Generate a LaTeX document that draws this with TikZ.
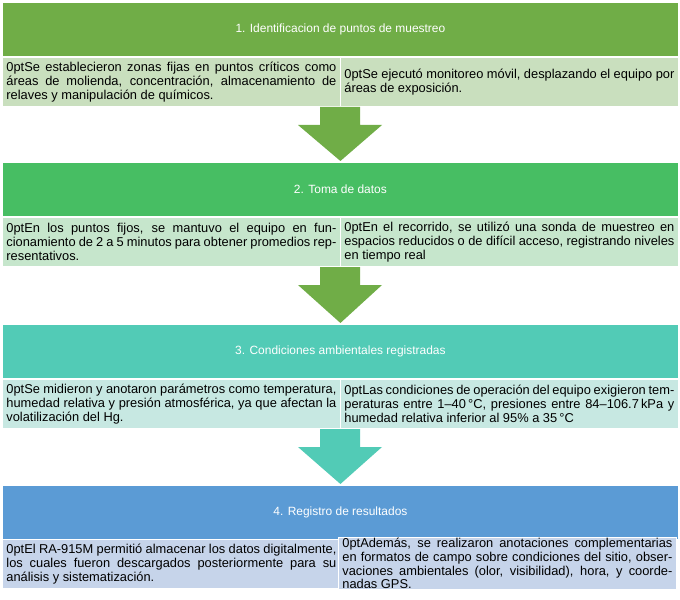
\documentclass[tikz,border=0pt]{standalone}
\usepackage{fontspec}
\setmainfont{Liberation Sans}
\usetikzlibrary{positioning}
\definecolor{hgreen}{HTML}{70AD47}
\definecolor{lgreen}{HTML}{C9DFBE}
\definecolor{hmint}{HTML}{47BE63}
\definecolor{lmint}{HTML}{C6E6CC}
\definecolor{hteal}{HTML}{52CBB6}
\definecolor{lteal}{HTML}{C7E8E2}
\definecolor{hblue}{HTML}{5B9BD5}
\definecolor{lblue}{HTML}{C6D4EA}
\tikzset{
  head/.style={fill=#1,draw=white,line width=0.8bp,minimum width=676bp,minimum height=54bp,
    anchor=north west,text=white,font=\fontsize{12}{14}\selectfont,inner sep=0pt},
  sub/.style={fill=#1,draw=white,line width=0.8bp,minimum width=338bp,minimum height=49bp,
    anchor=north west,text width=330bp,align=justify,inner xsep=4bp,inner ysep=2bp,
    font=\fontsize{12.9}{14}\selectfont\hyphenpenalty=10000\exhyphenpenalty=10000},
}
\newcommand{\blockarrow}[3]{% color, from node, to node
  \fill[#1] ([xshift=-20bp,yshift=-1bp]#2.south) -- ([xshift=20bp,yshift=-1bp]#2.south)
    -- ([xshift=20bp,yshift=-19bp]#2.south) -- ([xshift=42bp,yshift=-19bp]#2.south)
    -- ([yshift=1bp]#3.north) -- ([xshift=-42bp,yshift=-19bp]#2.south)
    -- ([xshift=-20bp,yshift=-19bp]#2.south) -- cycle;}
\begin{document}
\begin{tikzpicture}[x=1bp,y=-1bp]
  \useasboundingbox (0,0) rectangle (680,600);
  % Paso 1
  \node[head=hgreen] (h1) at (2,2) {1. Identificacion de puntos de muestreo};
  \node[sub=lgreen] (s1a) at (2,57) {Se establecieron zonas fijas en puntos críticos como áreas de molienda, concentración, almacenamiento de relaves y manipulación de químicos.\par};
  \node[sub=lgreen] (s1b) at (340,57) {Se ejecutó monitoreo móvil, desplazando el equipo por áreas de exposición.\par};
  % Paso 2
  \node[head=hmint] (h2) at (2,162) {2. Toma de datos};
  \node[sub=lmint] (s2a) at (2,217) {En los puntos fijos, se mantuvo el equipo en funcionamiento de 2 a 5 minutos para obtener promedios representativos.\par};
  \node[sub=lmint] (s2b) at (340,217) {En el recorrido, se utilizó una sonda de muestreo en espacios reducidos o de difícil acceso, registrando niveles en tiempo real\par};
  % Paso 3
  \node[head=hteal] (h3) at (2,324) {3. Condiciones ambientales registradas};
  \node[sub=lteal] (s3a) at (2,379) {Se midieron y anotaron parámetros como temperatura, humedad relativa y presión atmosférica, ya que afectan la volatilización del Hg.\par};
  \node[sub=lteal] (s3b) at (340,379) {Las condiciones de operación del equipo exigieron temperaturas entre 1--40\,°C, presiones entre 84--\allowbreak 106.7\,kPa y humedad relativa inferior al 95\% a 35\,°C\par};
  % Paso 4
  \node[head=hblue] (h4) at (2,485) {4. Registro de resultados};
  \node[sub=lblue] (s4a) at (2,539) {El RA-915M permitió almacenar los datos digitalmente, los cuales fueron descargados posteriormente para su análisis y sistematización.\par};
  \node[sub=lblue,anchor=north west,minimum height=52bp,inner ysep=0bp] (s4b) at (338,537) {Además, se realizaron anotaciones complementarias en formatos de campo sobre condiciones del sitio, observaciones ambientales (olor, visibilidad), hora, y coordenadas GPS.\par};
  % Flechas
  \coordinate (a1) at (340,106);
  \coordinate (a2) at (340,266);
  \coordinate (a3) at (340,428);
  \blockarrow{hgreen}{a1}{h2}
  \blockarrow{hgreen}{a2}{h3}
  \blockarrow{hteal}{a3}{h4}
\end{tikzpicture}
\end{document}
